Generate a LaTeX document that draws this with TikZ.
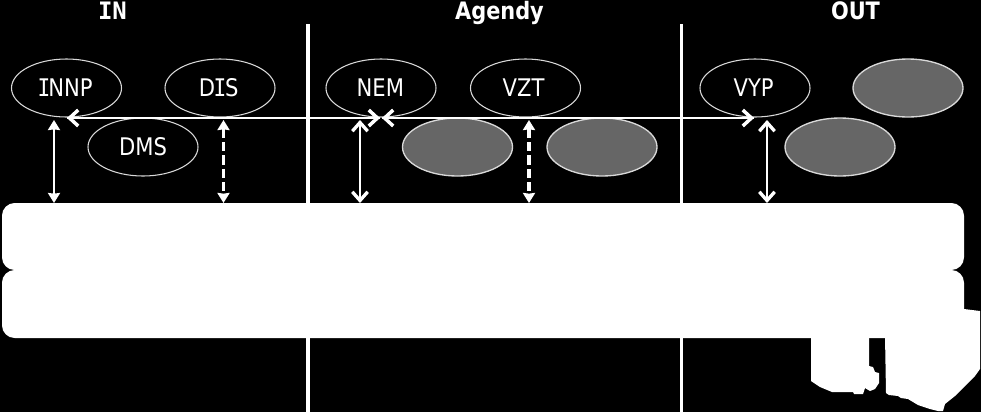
\documentclass[tikz,border=0pt]{standalone}
\usepackage{fontspec}
\setmainfont[FakeStretch=0.87]{DejaVu Sans}
\newfontfamily\monof[FakeStretch=0.87]{DejaVu Sans Mono}
\newfontfamily\monow{DejaVu Sans Mono}
\usetikzlibrary{arrows.meta,shapes.geometric}
\tikzset{
  x=0.75pt,y=-0.75pt,
  oval/.style={ellipse,draw=white!85!black,line width=0.8pt,minimum width=82.5pt,minimum height=43.5pt,inner sep=0pt,text=white,font=\fontsize{18.2}{20}\selectfont},
  ghost/.style={oval,fill=black!60,line width=1pt},
  title/.style={text=white,font=\fontsize{18}{20}\selectfont\bfseries,inner sep=0pt,anchor=base},
  divider/.style={draw=white,line width=2.4pt},
  wide/.style={draw=white,line width=2.2pt,-{Straight Barb[length=6.5pt,width=12pt,line width=2.6pt]}},
  both/.style={draw=white,line width=1.7pt,{Stealth[length=7.5pt,width=9pt,inset=0.5pt]}-{Stealth[length=7.5pt,width=9pt,inset=0.5pt]}},
  bothb/.style={draw=white,line width=2.2pt,{Straight Barb[length=6.5pt,width=11.5pt,line width=2.5pt]}-{Straight Barb[length=6.5pt,width=11.5pt,line width=2.5pt]}},
  dashline/.style={both,line width=2.4pt,dash pattern=on 7pt off 3pt},
  band/.style={fill=white,rounded corners=9.5pt},
}
\begin{document}
\begin{tikzpicture}
\useasboundingbox[fill=black] (0,0) rectangle (981,412);
% dividers
\coordinate (d1t) at (308,24); \coordinate (d1m) at (308,204);
\coordinate (d1b) at (308,336); \coordinate (d1e) at (308,412);
\coordinate (d2t) at (681.5,24); \coordinate (d2m) at (681.5,204);
\coordinate (d2b) at (681.5,336); \coordinate (d2e) at (681.5,412);
\draw[divider] (d1t) -- (d1m) (d1b) -- (d1e) (d2t) -- (d2m) (d2b) -- (d2e);
% titles
\node[title] (tin) at (112.5,19.5) {{\monow\bfseries IN}};
\node[title] (tag) at (499.5,19.5) {Agendy};
\node[title] (tout) at (855.5,19.5) {OUT};
% ovals
\node[oval] (innp) at (66.5,88) {{\monof I}\kern-1.5pt NNP\kern2pt};
\node[oval] (dis) at (220,88) {D\kern-1pt{\monof I}\kern-1pt S\kern2pt};
\node[oval] (dms) at (143,147) {DMS};
\node[oval] (nem) at (381,88) {NEM\kern1pt};
\node[oval] (vzt) at (525.5,88) {VZT\kern3pt};
\node[oval] (vyp) at (755,88) {VYP\kern2pt};
\node[ghost] (g1) at (457.5,147) {};
\node[ghost] (g2) at (602,147) {};
\node[ghost] (g3) at (840,147) {};
\node[ghost] (g4) at (908,88) {};
% band
\fill[band] (2,203) rectangle (964,270);
\fill[band] (2,270) rectangle (964,338);
% base shapes
\fill[white] (811,336) -- (811,381) -- (820,387) -- (832,392) -- (853,392) -- (854,394) -- (863,394) -- (865,388) -- (870,391) -- (875,389) -- (879,383) -- (879,373) -- (875,372) -- (873,367) -- (869,366) -- (869,336) -- cycle;
\fill[white] (885,336) -- (886,393) -- (889,395) -- (898,396) -- (901,398) -- (908,399) -- (918,405) -- (930,409) -- (938,411) -- (943,411) -- (945,404) -- (955,396) -- (966,385) -- (975,376) -- (980,369) -- (980,311) -- (964,309) -- (964,320) -- (950,320) -- (950,336) -- cycle;
% connectors
\coordinate (h1) at (67,118);
\coordinate (h2) at (380,118);
\coordinate (h2b) at (382,118);
\coordinate (h3) at (754,118);
\draw[wide] (h2) -- (h1);
\draw[wide] (h1) -- (h2);
\draw[wide] (h3) -- (h2b);
\draw[wide] (h2b) -- (h3);
\coordinate (a1t) at (54,120); \coordinate (a1b) at (54,203);
\coordinate (a2t) at (223.5,120); \coordinate (a2b) at (223.5,203);
\coordinate (a3t) at (360,120); \coordinate (a3b) at (360,203);
\coordinate (a4t) at (529,120); \coordinate (a4b) at (529,203);
\coordinate (a5t) at (767,120); \coordinate (a5b) at (767,203);
\draw[both] (a1t) -- (a1b);
\draw[dashline] (a2t) -- (a2b);
\draw[bothb] (a3t) -- (a3b);
\draw[dashline] (a4t) -- (a4b);
\draw[bothb] (a5t) -- (a5b);
\end{tikzpicture}
\end{document}
